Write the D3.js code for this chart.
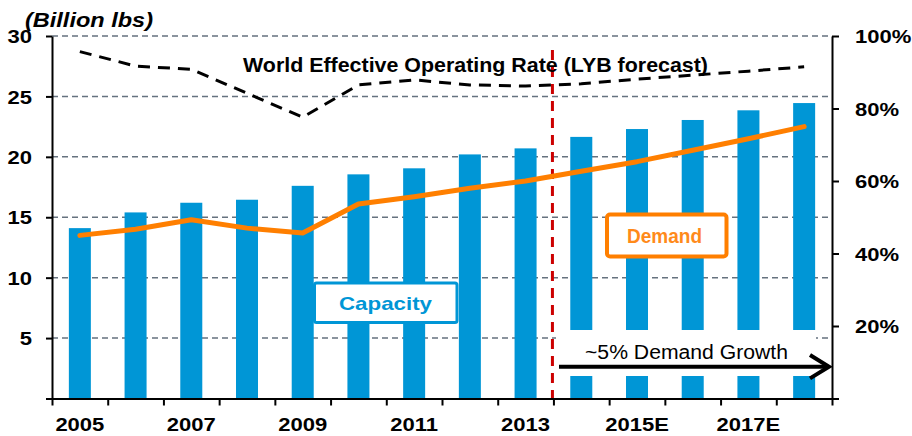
<!DOCTYPE html>
<html>
<head>
<meta charset="utf-8">
<script src="https://cdn.jsdelivr.net/npm/d3@7"></script>
<style>
body { margin: 0; background: #fff; }
svg { display: block; font-family: Arial, "Liberation Sans", sans-serif; }
</style>
</head>
<body>
<svg width="912" height="436"></svg>
<script>
// chart values
const years = ['2005', '2006', '2007', '2008', '2009', '2010', '2011', '2012', '2013',
               '2014E', '2015E', '2016E', '2017E', '2018E'];
const xLabels = ['2005', '2007', '2009', '2011', '2013', '2015E', '2017E'];
const capacity = [14.1, 15.4, 16.2, 16.45, 17.6, 18.55, 19.05, 20.2, 20.7, 21.65, 22.3, 23.05, 23.85, 24.45];
const demand = [13.5, 14.0, 14.8, 14.1, 13.7, 16.1, 16.7, 17.4, 18.0, 18.8, 19.6, 20.55, 21.5, 22.5];
const operatingRate = [95.7, 91.7, 90.8, 84.2, 77.6, 86.5, 87.9, 86.5, 86.2, 86.8, 88.1, 89.2, 90.3, 91.5];
const yTicks = [0, 5, 10, 15, 20, 25, 30];
const rateTicks = [0, 20, 40, 60, 80, 100];
const forecastStart = '2014E';

const svg = d3.select('svg');
const plot = { left: 52, right: 832, top: 36, bottom: 398.5 };
const blue = '#0096D6', orange = '#FF7F00';
const stretch = 'scale(1.19,1)';

const x = d3.scaleBand().domain(years).range([plot.left, plot.right])
    .paddingInner(0.605).paddingOuter(0.3025);
const xEdge = d3.scaleLinear().domain([0, years.length]).range([plot.left, plot.right]);
const y = d3.scaleLinear().domain([0, 30]).range([plot.bottom, plot.top]);
const yRate = d3.scaleLinear().domain([0, 100]).range([plot.bottom, plot.top]);
const cx = d => x(d) + x.bandwidth() / 2;

//* gridlines
svg.append('g').selectAll('line').data(yTicks.filter(d => d > 0))
    .enter().append('line')
    .attr('x1', plot.left).attr('x2', plot.right)
    .attr('y1', d => y(d)).attr('y2', d => y(d))
    .attr('stroke', '#66727f').attr('stroke-width', 1.5)
    .attr('stroke-dasharray', '6,4');

//* capacity bars
svg.append('g').selectAll('rect').data(capacity)
    .enter().append('rect')
    .attr('x', (d, i) => x(years[i]))
    .attr('y', d => y(d))
    .attr('width', x.bandwidth())
    .attr('height', d => plot.bottom - y(d))
    .attr('fill', blue);

//* white panel behind growth annotation
svg.append('rect')
    .attr('x', 556).attr('y', 330).attr('width', 260).attr('height', 46)
    .attr('fill', '#fff');

//* forecast divider
const divX = xEdge(years.indexOf(forecastStart)) - 1;
svg.append('line')
    .attr('x1', divX).attr('x2', divX).attr('y1', 50).attr('y2', plot.bottom)
    .attr('stroke', '#cc0000').attr('stroke-width', 3)
    .attr('stroke-dasharray', '10,7');

//* demand line
svg.append('path').datum(demand)
    .attr('d', d3.line().x((d, i) => cx(years[i])).y(d => y(d)))
    .attr('fill', 'none').attr('stroke', orange).attr('stroke-width', 5)
    .attr('stroke-linecap', 'round').attr('stroke-linejoin', 'round');

//* operating rate line
svg.append('path').datum(operatingRate)
    .attr('d', d3.line().x((d, i) => cx(years[i])).y(d => yRate(d)))
    .attr('fill', 'none').attr('stroke', '#000').attr('stroke-width', 3)
    .attr('stroke-dasharray', '12,8');

//* axes
const styleAxis = g => {
    g.select('.domain').attr('stroke', '#000').attr('stroke-width', 2);
    g.selectAll('.tick line').attr('stroke', '#000').attr('stroke-width', 2);
    g.selectAll('.tick text')
        .attr('fill', '#000').style('font-size', '18.5px').style('font-weight', 'bold');
};

const yAxisG = svg.append('g').attr('transform', `translate(${plot.left},0)`)
    .call(d3.axisLeft(y).tickValues(yTicks).tickSize(6).tickSizeOuter(0)
        .tickFormat(d => d ? d : ''))
    .call(styleAxis);
yAxisG.selectAll('.tick text')
    .attr('x', null).attr('dy', null)
    .attr('transform', `translate(-20,6.6) ${stretch}`);

const rAxisG = svg.append('g').attr('transform', `translate(${plot.right},0)`)
    .call(d3.axisRight(yRate).tickValues(rateTicks).tickSize(7).tickSizeOuter(0)
        .tickFormat(d => d ? d + '%' : ''))
    .call(styleAxis);
rAxisG.selectAll('.tick text')
    .attr('x', null).attr('dy', null)
    .attr('transform', `translate(23,6.6) ${stretch}`);

svg.append('g').attr('transform', `translate(0,${plot.bottom})`)
    .call(d3.axisBottom(xEdge).tickValues(d3.range(years.length + 1)).tickSize(7)
        .tickSizeOuter(0).tickFormat(''))
    .call(styleAxis);

svg.append('g').selectAll('text').data(xLabels)
    .enter().append('text')
    .attr('transform', d => `translate(${cx(d)},430.5) ${stretch}`)
    .attr('text-anchor', 'middle')
    .style('font-size', '18.5px').style('font-weight', 'bold')
    .text(d => d);

//* titles
svg.append('text')
    .attr('x', 25).attr('y', 27)
    .attr('textLength', 128).attr('lengthAdjust', 'spacingAndGlyphs')
    .style('font-size', '19.5px').style('font-weight', 'bold').style('font-style', 'italic')
    .text('(Billion lbs)');

svg.append('text')
    .attr('x', 243).attr('y', 71.5)
    .attr('textLength', 465).attr('lengthAdjust', 'spacingAndGlyphs')
    .style('font-size', '20.5px').style('font-weight', 'bold')
    .text('World Effective Operating Rate (LYB forecast)');

//* legend boxes
svg.append('rect')
    .attr('x', 314.5).attr('y', 283).attr('width', 142.5).attr('height', 39.5).attr('rx', 2)
    .attr('fill', '#fff').attr('stroke', blue).attr('stroke-width', 3);
svg.append('text')
    .attr('x', 339).attr('y', 310)
    .attr('textLength', 93).attr('lengthAdjust', 'spacingAndGlyphs')
    .attr('fill', blue).style('font-size', '18.6px').style('font-weight', 'bold')
    .text('Capacity');

svg.append('rect')
    .attr('x', 607).attr('y', 214.5).attr('width', 119.5).attr('height', 42).attr('rx', 3)
    .attr('fill', '#fff').attr('stroke', orange).attr('stroke-width', 4);
svg.append('text')
    .attr('x', 627).attr('y', 243.3)
    .attr('textLength', 75).attr('lengthAdjust', 'spacingAndGlyphs')
    .attr('fill', '#FF8A1A').style('font-size', '19.5px').style('font-weight', 'bold')
    .text('Demand');

//* growth annotation
svg.append('text')
    .attr('x', 585).attr('y', 359.3)
    .attr('textLength', 203).attr('lengthAdjust', 'spacingAndGlyphs')
    .style('font-size', '20px')
    .text('~5% Demand Growth');
svg.append('line')
    .attr('x1', 559).attr('x2', 828).attr('y1', 366.7).attr('y2', 366.7)
    .attr('stroke', '#000').attr('stroke-width', 4);
svg.append('path')
    .attr('d', 'M810,355 L829,366.7 L810,378.4')
    .attr('fill', 'none').attr('stroke', '#000').attr('stroke-width', 4);
</script>
</body>
</html>
